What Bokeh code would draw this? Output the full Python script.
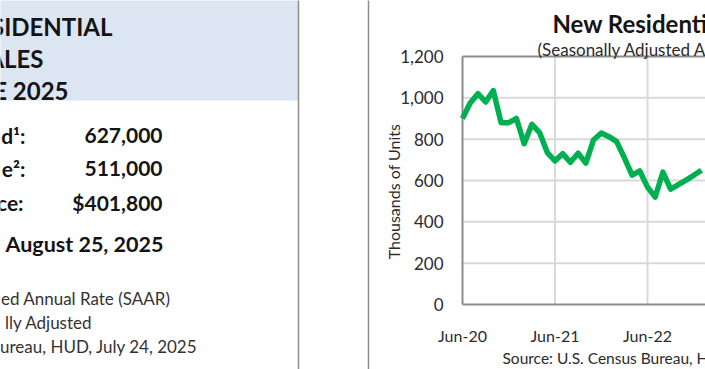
import math
from bokeh.plotting import figure
from bokeh.models import Range1d
from bokeh.embed import file_html
from bokeh.resources import INLINE
from bokeh.core.properties import value

FONT = "Lato"

# ---------------- data ----------------
months = ["Jun-20", "Jul-20", "Aug-20", "Sep-20", "Oct-20", "Nov-20", "Dec-20",
          "Jan-21", "Feb-21", "Mar-21", "Apr-21", "May-21", "Jun-21", "Jul-21",
          "Aug-21", "Sep-21", "Oct-21", "Nov-21", "Dec-21", "Jan-22", "Feb-22",
          "Mar-22", "Apr-22", "May-22", "Jun-22", "Jul-22", "Aug-22", "Sep-22",
          "Oct-22", "Nov-22", "Dec-22", "Jan-23"]
sales = [900, 975, 1020, 980, 1035, 880, 880, 900, 778, 872, 832, 735,
         695, 730, 688, 732, 684, 796, 830, 812, 788, 710, 626, 646,
         568, 520, 641, 558, 580, 602, 625, 650]
x_tick_labels = ["Jun-20", "Jun-21", "Jun-22", "Jun-23"]
y_ticks = [0, 200, 400, 600, 800, 1000, 1200]

header_lines = ["SIDENTIAL", "ALES", "E 2025"]
stat_labels = ["d\u00b9:", "e\u00b2:", "ce:"]
stat_values = ["627,000", "511,000", "$401,800"]
release_text = "August 25, 2025"
footnotes = ["ed Annual Rate (SAAR)", "lly Adjusted", "ureau, HUD, July 24, 2025"]

chart_title = "New Residential Sales"
chart_subtitle = "(Seasonally Adjusted Annual Rate)"
y_label = "Thousands of Units"
source_text = "Source:  U.S. Census Bureau, HUD"

# ---------------- layout (page pixels; Bokeh's page template has no body margin) ----------------
PAGE_W, PAGE_H = 705, 369
OFF = 0
FRAME_L, FRAME_T, FRAME_B = 462, 56, 304     # plot-area edges
PX_PER_MONTH = 92.5 / 12
PX_PER_UNIT = (FRAME_B - FRAME_T) / float(y_ticks[-1] - y_ticks[0])


def dx(px):
    return (px - FRAME_L) / PX_PER_MONTH


def dy(py):
    return y_ticks[0] + (FRAME_B - py) / PX_PER_UNIT


p = figure(width=PAGE_W, height=PAGE_H,
           x_range=Range1d(OFF, OFF + PAGE_W), y_range=Range1d(OFF + PAGE_H, OFF),
           toolbar_location=None, output_backend="svg", min_border=0,
           x_axis_location=None, y_axis_location=None)
p.grid.visible = False
p.outline_line_color = None
p.background_fill_color = "white"
p.border_fill_color = "white"
p.extra_x_ranges = {"m": Range1d(dx(OFF), dx(OFF + PAGE_W))}
p.extra_y_ranges = {"u": Range1d(dy(OFF + PAGE_H), dy(OFF))}
M = dict(x_range_name="m", y_range_name="u")

# ---------------- left panel ----------------
p.quad(left=-20, right=298, top=-20, bottom=100, fill_color="#dce6f2", line_color=None)
p.segment(x0=[298, 368], y0=[-20, -20], x1=[298, 368], y1=[400, 400],
          line_color="#8c8c8c", line_width=1.5)

dark = "#141414"
p.text(x=[112, 43, 68], y=[26, 58, 90], text=header_lines,
       text_font=value(FONT), text_font_size="24px", text_font_style="bold",
       text_align="right", text_baseline="alphabetic", text_color=dark)
p.text(x=[25, 25, 23], y=[135, 168, 202], text=stat_labels,
       text_font=value(FONT), text_font_size="21px", text_font_style="bold",
       text_align="right", text_baseline="alphabetic", text_color=dark)
p.text(x=[162, 162, 162], y=[135, 168, 202], text=stat_values,
       text_font=value(FONT), text_font_size="21px", text_font_style="bold",
       text_align="right", text_baseline="alphabetic", text_color=dark)
p.text(x=[163], y=[243], text=[release_text],
       text_font=value(FONT), text_font_size="21.5px", text_font_style="bold",
       text_align="right", text_baseline="alphabetic", text_color=dark)
p.text(x=[170, 92, 197], y=[298, 322, 346], text=footnotes,
       text_font=value(FONT), text_font_size="17px",
       text_align="right", text_baseline="alphabetic", text_color="#333333")

# ---------------- chart ----------------
tick_pos = [12 * i for i in range(len(x_tick_labels))]
y_lo, y_hi = y_ticks[0], y_ticks[-1]
x_hi = dx(OFF + PAGE_W) + 1
inner_y = y_ticks[1:-1]

# grid lines inside the plot area
p.segment(x0=[0] * len(inner_y), x1=[x_hi] * len(inner_y), y0=inner_y, y1=inner_y,
          line_color="#d9d9d9", line_width=2, **M)
p.segment(x0=tick_pos[1:], x1=tick_pos[1:], y0=[y_lo] * (len(tick_pos) - 1),
          y1=[y_hi] * (len(tick_pos) - 1), line_color="#d9d9d9", line_width=2, **M)
# plot-area border: top, bottom (x axis) and left (y axis)
p.segment(x0=[0, 0, 0], x1=[x_hi, x_hi, 0], y0=[y_hi, y_lo, y_lo], y1=[y_hi, y_lo, y_hi],
          line_color="#8c8c8c", line_width=2, **M)

# data line
x_idx = list(range(len(months)))
p.line(x_idx, sales, line_color="#00b050", line_width=5.5, line_join="round", **M)

# y tick labels
p.text(x=[0] * len(y_ticks), y=y_ticks, text=[f"{v:,}" for v in y_ticks],
       x_offset=-19, text_font=value(FONT), text_font_size="17px", text_color="#2b2b2b",
       text_align="right", text_baseline="middle", **M)
# x tick labels
p.text(x=tick_pos, y=[y_lo] * len(tick_pos), text=x_tick_labels, y_offset=31,
       text_font=value(FONT), text_font_size="16px", text_color="#2b2b2b",
       text_align="center", text_baseline="alphabetic", **M)

# y axis title
p.text(x=[393], y=[191], text=[y_label], angle=math.pi / 2,
       text_font=value(FONT), text_font_size="16px", text_color="#2b2b2b",
       text_align="center", text_baseline="middle")

# titles and source
p.text(x=[552], y=[23], text=[chart_title], text_font=value(FONT),
       text_font_size="24px", text_font_style="bold", text_color="#141414",
       text_baseline="alphabetic")
p.text(x=[537], y=[49], text=[chart_subtitle], text_font=value(FONT),
       text_font_size="17px", text_color="#2b2b2b", text_baseline="alphabetic")
p.text(x=[502], y=[357], text=[source_text], text_font=value(FONT),
       text_font_size="15.5px", text_color="#2b2b2b", text_baseline="alphabetic")

open("out.html", "w").write(file_html(p, INLINE))
